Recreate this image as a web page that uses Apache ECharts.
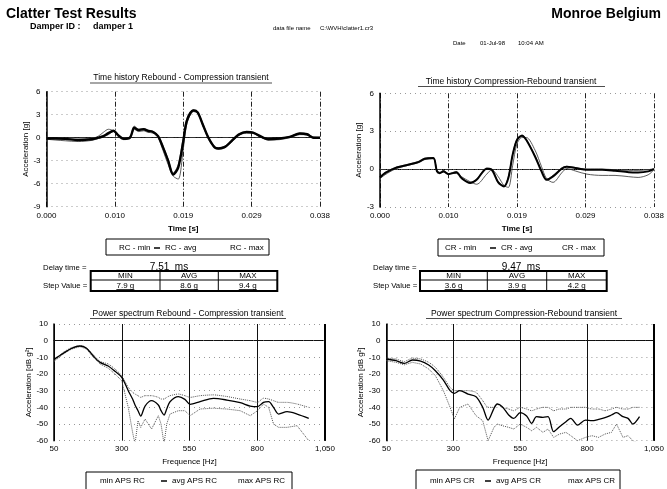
<!DOCTYPE html>
<html><head><meta charset="utf-8">
<script src="https://cdn.jsdelivr.net/npm/echarts@6/dist/echarts.min.js"></script>
<style>html,body{margin:0;padding:0;background:#fff}#c{width:667px;height:489px}</style>
</head><body><div id="c"></div>
<script>
// ---------- data ----------
const timeTickLabels = ['0.000', '0.010', '0.019', '0.029', '0.038'];

const rcTime = [0, 0.0012, 0.0026, 0.0044, 0.0063, 0.0072, 0.0079, 0.0086, 0.0093, 0.0100, 0.0107, 0.0116, 0.0122, 0.0128, 0.0135, 0.0141, 0.0148, 0.0155, 0.0162, 0.0169, 0.0176, 0.0183, 0.0190, 0.0195, 0.0204, 0.0210, 0.0217, 0.0225, 0.0234, 0.0239, 0.0248, 0.0257, 0.0267, 0.0278, 0.0287, 0.0299, 0.0308, 0.0324, 0.0338, 0.0352, 0.0362, 0.0371, 0.0380];
const rcAvg = [-0.1, -0.1, -0.15, -0.3, -0.2, 0.0, 0.2, 0.6, 0.9, 0.3, -0.15, 0.0, 1.3, 1.0, 1.1, 0.9, 0.75, 0.2, -1.3, -3.0, -4.8, -3.9, -0.5, 2.2, 3.55, 3.3, 1.75, 0.0, -1.3, -1.4, -1.2, -0.45, 0.4, 0.74, 0.65, 0.1, -0.2, -0.1, 0.1, 0.55, 0.45, 0.0, 0.0];
const rcMin = [-0.2, -0.3, -0.4, -0.5, -0.35, -0.1, 0.1, 0.4, 0.8, 0.1, -0.25, -0.1, 1.1, 0.8, 0.9, 0.7, 0.6, 0.0, -1.7, -3.5, -5.0, -5.4, -1.5, 1.8, 3.4, 3.2, 1.6, -0.2, -1.4, -1.5, -1.3, -0.6, 0.3, 0.6, 0.55, 0.0, -0.3, -0.25, 0.0, 0.4, 0.35, -0.1, -0.1];
const rcMax = [-0.05, -0.05, -0.1, -0.2, -0.1, 0.2, 0.7, 1.1, 0.9, 0.4, -0.1, 0.1, 1.5, 1.1, 1.2, 1.0, 0.85, 0.3, -1.1, -2.8, -4.6, -3.5, 0.0, 2.5, 3.65, 3.4, 1.9, 0.1, -1.2, -1.3, -1.1, -0.35, 0.45, 0.8, 0.7, 0.15, -0.15, -0.05, 0.15, 0.6, 0.5, 0.1, 0.05];

const crTime = [0, 0.0007, 0.0021, 0.0039, 0.0053, 0.0062, 0.0074, 0.0079, 0.0083, 0.0088, 0.0095, 0.0106, 0.0113, 0.0125, 0.0134, 0.0148, 0.0155, 0.0164, 0.0172, 0.0178, 0.0184, 0.0190, 0.0197, 0.0203, 0.0215, 0.0224, 0.0231, 0.0240, 0.0252, 0.0259, 0.0271, 0.0287, 0.0308, 0.0326, 0.0345, 0.0358, 0.0372, 0.0380];
const crAvg = [-0.66, -0.32, 0.08, 0.34, 0.55, 0.82, 0.87, -0.18, -0.32, -0.18, -0.4, -0.24, -0.71, -1.1, -0.85, 0.03, -0.05, -1.05, -1.37, -0.71, 1.13, 2.3, 2.64, 2.3, 1.0, -0.18, -0.85, -0.58, 0.03, 0.18, 0.08, -0.05, -0.05, -0.13, -0.24, -0.26, -0.18, 0];
const crMin = [-0.75, -0.45, 0.0, 0.3, 0.5, 0.75, 0.82, -0.1, -0.3, -0.25, -0.35, -0.35, -0.6, -1.0, -1.2, -0.4, -0.05, -0.6, -1.3, -1.45, 0.3, 2.0, 2.5, 2.5, 1.5, 0.2, -0.75, -1.05, -0.3, 0.05, -0.15, -0.4, -0.5, -0.5, -0.6, -0.66, -0.45, -0.05];
const crMax = [-0.6, -0.25, 0.12, 0.38, 0.6, 0.86, 0.9, -0.1, -0.25, -0.1, -0.35, -0.2, -0.65, -1.05, -0.8, 0.08, 0.0, -1.0, -1.3, -0.6, 1.2, 2.4, 2.7, 2.35, 1.05, -0.1, -0.8, -0.5, 0.1, 0.22, 0.12, 0.0, 0.0, -0.05, -0.1, -0.1, -0.05, 0.05];

const apsRcFreq = [50, 84, 115, 146, 170, 195, 220, 250, 275, 300, 324, 340, 349, 360, 370, 386, 410, 435, 445, 456, 466, 478, 509, 533, 552, 589, 638, 688, 737, 774, 801, 823, 842, 860, 879, 910, 947, 990];
const apsRcAvg = [-11.2, -7.6, -4.6, -3.2, -4.6, -9.2, -13, -15.2, -18.4, -22, -30, -35, -38.6, -42, -45.2, -39.2, -36, -38.6, -42, -44.6, -41, -36.6, -33.6, -35.2, -38.2, -36.6, -34.6, -35.6, -37.2, -39.2, -39.6, -37, -36.6, -40, -44, -42.6, -44, -46.6];
const apsRcMax = [-12, -7, -4.2, -3, -4.4, -8.5, -12.5, -14, -17, -21, -28, -31, -32, -33, -34, -33, -33, -34, -35, -35, -34, -33, -32, -33, -34, -33, -32.5, -33.5, -35, -36, -37, -34.5, -35, -36, -37, -37, -38, -40];
const apsRcMin = [-12.5, -8, -5, -3.6, -5, -10, -14, -16.5, -20, -24, -40, -55, -62, -48, -52, -47, -53, -45, -50, -62, -50, -44, -42, -42, -45, -41, -40.5, -41, -42, -45, -42, -38, -40, -50, -52, -52, -51, -60];

const apsCrFreq = [50, 86, 117, 147, 178, 208, 233, 263, 288, 304, 324, 355, 385, 410, 430, 452, 464, 483, 507, 526, 550, 574, 593, 611, 635, 654, 675, 697, 721, 739, 764, 794, 818, 843, 867, 891, 910, 934, 953, 971, 996];
const apsCrAvg = [-11, -12, -13.6, -11.6, -12.2, -14.6, -18, -23.6, -30, -31.6, -30, -32, -33.6, -40, -47.6, -40.6, -38, -39.6, -44.6, -46.6, -43.2, -45.2, -49.6, -45.6, -46, -45.6, -54.6, -51.6, -48.6, -46.6, -50.6, -47.6, -48, -47.2, -46.2, -44.6, -43.2, -45.6, -46.6, -50, -45.6];
const apsCrMax = [-10.5, -11, -12.5, -10.5, -11, -13, -16, -22, -28, -30, -30, -30, -31, -36, -40, -40, -38, -40, -41, -42, -40, -41, -42, -41, -40, -40, -42, -41, -41, -40, -40, -40, -41, -41, -42, -41, -40, -41, -41, -40, -40];
const apsCrMin = [-12, -13, -14.5, -13, -14, -17, -21, -30, -40, -47, -40, -38, -45, -48, -60, -52, -50, -51, -52, -53, -50, -52, -54, -52, -55, -53, -58, -56, -55, -57, -60, -58, -57, -58, -56, -55, -50, -58, -57, -60, -62];

const stepHeaders = ['MIN', 'AVG', 'MAX'];
const rcStep = ['7.9 g', '8.6 g', '9.4 g'];
const crStep = ['3.6 g', '3.9 g', '4.2 g'];
const rcDelay = '7.51  ms';
const crDelay = '9.47  ms';

// ---------- helpers ----------
const FF = "'Liberation Sans', Arial, Helvetica, sans-serif";
const zip = (xs, ys) => xs.map((x, i) => [x, ys[i]]);

function timeX(gi) {
  return {
    type: 'value', gridIndex: gi, min: 0, max: 0.038, interval: 0.0095,
    name: 'Time [s]', nameLocation: 'middle', nameGap: 18,
    nameTextStyle: { fontSize: 8, fontFamily: FF, color: '#000', fontWeight: 'bold' },
    axisLine: { show: true, lineStyle: { color: '#000', type: 'dotted', width: 1 } },
    axisTick: { show: false },
    axisLabel: { fontSize: 8, fontFamily: FF, color: '#000', margin: 5,
      formatter: v => timeTickLabels[Math.round(v / 0.0095)] },
    splitLine: { show: true, lineStyle: { color: '#222', type: [5, 2, 1, 2], width: 1 } }
  };
}
function freqX(gi) {
  return {
    type: 'value', gridIndex: gi, min: 50, max: 1050, interval: 250,
    name: 'Frequence [Hz]', nameLocation: 'middle', nameGap: 17,
    nameTextStyle: { fontSize: 8, fontFamily: FF, color: '#000' },
    axisLine: { show: true, lineStyle: { color: '#000', type: 'dotted', width: 1 } },
    axisTick: { show: false },
    axisLabel: { fontSize: 8, fontFamily: FF, color: '#000', margin: 4 },
    splitLine: { show: true, lineStyle: { color: '#111', type: 'solid', width: 1 } }
  };
}
function accY(gi, min, max, interval, name, gap) {
  return {
    type: 'value', gridIndex: gi, min, max, interval,
    name, nameLocation: 'middle', nameGap: gap, nameRotate: 90,
    nameTextStyle: { fontSize: 8, fontFamily: FF, color: '#000' },
    axisLine: { show: true, lineStyle: { color: '#000', width: 1.5 } },
    axisTick: { show: false },
    axisLabel: { fontSize: 8, fontFamily: FF, color: '#000', margin: 6 },
    splitLine: { show: true, lineStyle: { color: '#999', type: [1, 4], width: 1 } }
  };
}
function frameMarks(xMax, zeroStyle) {
  return {
    silent: true, symbol: 'none', animation: false, label: { show: false },
    data: [
      { yAxis: 0, lineStyle: zeroStyle },
      { xAxis: xMax, lineStyle: { color: '#000', type: 'solid', width: 2 } }
    ]
  };
}
function series(name, gi, xs, ys, kind, extra) {
  const styles = {
    avg: { color: '#000', width: 2, type: 'solid' },
    thin: { color: '#333', width: 0.8, type: 'solid' },
    dot: { color: '#555', width: 1, type: 'dotted' }
  };
  return Object.assign({
    name, type: 'line', xAxisIndex: gi, yAxisIndex: gi,
    data: zip(xs, ys), showSymbol: false, symbol: 'none',
    lineStyle: styles[kind], itemStyle: { color: styles[kind].color },
    z: kind === 'avg' ? 5 : 3, clip: true, silent: true
  }, extra || {});
}
function legendItem(name, left, top, visible) {
  return {
    left, top, padding: 0, itemGap: 0, itemWidth: 6, itemHeight: 1.5, icon: 'rect',
    selectedMode: false,
    data: [{ name, itemStyle: visible ? { color: '#000', opacity: 1 } : { opacity: 0 } }],
    textStyle: { fontSize: 8, fontFamily: FF, color: '#000' }
  };
}
function txt(x, y, text, size, opts) {
  opts = opts || {};
  return { type: 'text', x, y, silent: true,
    style: { text, fill: '#000', fontSize: size, fontFamily: FF,
      fontWeight: opts.bold ? 'bold' : 'normal',
      align: opts.align || 'left', verticalAlign: 'middle' } };
}
function ln(x1, y1, x2, y2, w, dash) {
  return { type: 'line', silent: true, shape: { x1, y1, x2, y2 },
    style: { stroke: '#000', lineWidth: w || 1, lineDash: dash || null } };
}
function box(x, y, w, h, lw) {
  return { type: 'rect', silent: true, shape: { x, y, width: w, height: h },
    style: { fill: 'none', stroke: '#000', lineWidth: lw || 1 } };
}
function stepTable(labelX, x0, c1, c2, x1, delay, delayX, values) {
  const y0 = 271, ym = 280, y1 = 291;
  const cols = [[x0, c1], [c1, c2], [c2, x1]];
  const els = [
    txt(labelX, 267.5, 'Delay time =', 7.8),
    txt(delayX, 267, delay, 10, { align: 'center' }),
    txt(labelX, 286, 'Step Value =', 7.8),
    box(x0, y0, x1 - x0, y1 - y0, 2),
    ln(x0, ym, x1, ym, 1),
    ln(c1, y0, c1, y1, 1),
    ln(c2, y0, c2, y1, 1)
  ];
  cols.forEach((c, i) => {
    const cx = (c[0] + c[1]) / 2;
    els.push(txt(cx, 275.5, stepHeaders[i], 8, { align: 'center' }));
    els.push(txt(cx, 285.5, values[i], 8, { align: 'center' }));
    els.push(ln(cx - 9, 289.5, cx + 9, 289.5, 0.8));
  });
  return els;
}

// ---------- chart ----------
const chart = echarts.init(document.getElementById('c'), null, { renderer: 'canvas' });
const zeroDash = { color: '#333', type: [6, 2, 1, 2], width: 1 };
const zeroSolid = { color: '#111', type: [8, 2], width: 1.2 };

const option = {
  animation: false,
  backgroundColor: '#fff',
  grid: [
    { left: 46.5, top: 91.7, width: 273.5, height: 115 },
    { left: 380, top: 93.3, width: 274, height: 113.7 },
    { left: 54, top: 324, width: 271, height: 116.7 },
    { left: 386.4, top: 324, width: 273.2, height: 116.7 }
  ],
  xAxis: [timeX(0), timeX(1), freqX(2), freqX(3)],
  yAxis: [
    accY(0, -9, 6, 3, 'Acceleration [g]', 17),
    accY(1, -3, 6, 3, 'Acceleration [g]', 17),
    accY(2, -60, 10, 10, 'Acceleration [dB g²]', 17),
    accY(3, -60, 10, 10, 'Acceleration [dB g²]', 17)
  ],
  legend: [
    legendItem('RC - min', 108, 244, false),
    legendItem('RC - avg', 154, 244, true),
    legendItem('RC - max', 219, 244, false),
    legendItem('CR - min', 434, 244, false),
    legendItem('CR - avg', 490, 244, true),
    legendItem('CR - max', 551, 244, false),
    legendItem('min APS RC', 89, 477, false),
    legendItem('avg APS RC', 161, 477, true),
    legendItem('max APS RC', 227, 477, false),
    legendItem('min APS CR', 419, 477, false),
    legendItem('avg APS CR', 485, 477, true),
    legendItem('max APS CR', 557, 477, false)
  ],
  series: [
    series('RC - min', 0, rcTime, rcMin, 'thin', { smooth: 0.3 }),
    series('RC - max', 0, rcTime, rcMax, 'thin', { smooth: 0.3 }),
    series('RC - avg', 0, rcTime, rcAvg, 'avg', { smooth: 0.3, lineStyle: { color: '#000', width: 2.4 }, markLine: frameMarks(0.038, zeroDash) }),
    series('CR - min', 1, crTime, crMin, 'thin', { smooth: 0.3 }),
    series('CR - max', 1, crTime, crMax, 'thin', { smooth: 0.3 }),
    series('CR - avg', 1, crTime, crAvg, 'avg', { smooth: 0.3, lineStyle: { color: '#000', width: 2 }, markLine: frameMarks(0.038, zeroDash) }),
    series('min APS RC', 2, apsRcFreq, apsRcMin, 'dot'),
    series('max APS RC', 2, apsRcFreq, apsRcMax, 'dot', { smooth: 0.2 }),
    series('avg APS RC', 2, apsRcFreq, apsRcAvg, 'avg', { smooth: 0.3, lineStyle: { color: '#000', width: 1.3 }, markLine: frameMarks(1050, zeroSolid) }),
    series('min APS CR', 3, apsCrFreq, apsCrMin, 'dot'),
    series('max APS CR', 3, apsCrFreq, apsCrMax, 'dot', { smooth: 0.2 }),
    series('avg APS CR', 3, apsCrFreq, apsCrAvg, 'avg', { smooth: 0.3, lineStyle: { color: '#000', width: 1.3 }, markLine: frameMarks(1050, zeroSolid) })
  ],
  graphic: [
    // header
    txt(6, 14, 'Clatter Test Results', 14, { bold: true }),
    txt(661, 14, 'Monroe Belgium', 14, { bold: true, align: 'right' }),
    txt(30, 27, 'Damper ID :', 9, { bold: true }),
    txt(93, 27, 'damper 1', 9, { bold: true }),
    txt(273, 28, 'data file name', 6),
    txt(320, 28, 'C:\\WVH\\clatter1.cr3', 6),
    txt(453, 43, 'Date', 6),
    txt(480, 43, '01-Jul-98', 6),
    txt(518, 43, '10:04 AM', 6),
    // chart titles
    txt(181, 78, 'Time history Rebound - Compression transient', 8.5, { align: 'center' }),
    ln(90, 83, 272, 83, 0.7),
    txt(511, 81.5, 'Time history Compression-Rebound transient', 8.5, { align: 'center' }),
    ln(418, 86.5, 605, 86.5, 0.7),
    txt(188, 313.5, 'Power spectrum Rebound - Compression transient', 8.5, { align: 'center' }),
    ln(90, 318.5, 286, 318.5, 0.7),
    txt(524, 313.5, 'Power spectrum Compression-Rebound transient', 8.5, { align: 'center' }),
    ln(426, 318.5, 622, 318.5, 0.7),
    // legend frames
    box(106, 239, 163, 16, 1),
    box(438, 239, 166, 17, 1),
    box(86, 472, 206, 24, 1),
    box(416, 470, 204, 26, 1)
  ]
    .concat(stepTable(43, 90.7, 160, 218.3, 277.3, rcDelay, 169, rcStep))
    .concat(stepTable(373, 420, 487.3, 546.7, 606.7, crDelay, 521, crStep))
};
chart.setOption(option);
</script>
</body></html>
